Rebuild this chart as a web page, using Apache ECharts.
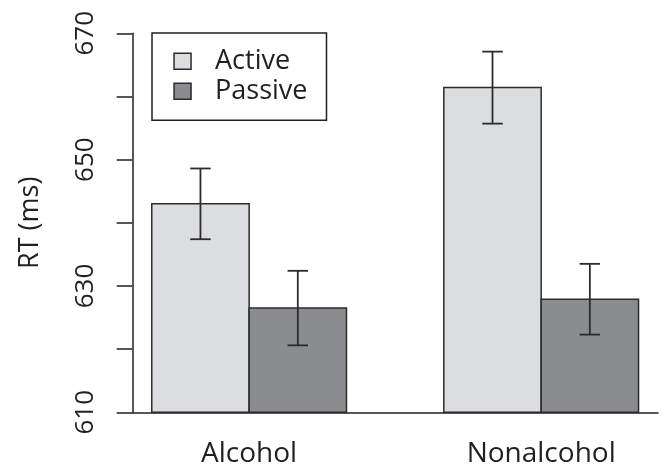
<!DOCTYPE html>
<html><head><meta charset="utf-8">
<script src="https://cdn.jsdelivr.net/npm/echarts@6/dist/echarts.min.js"></script>
<style>html,body{margin:0;padding:0;background:#fff}#c{width:665px;height:470px}</style>
</head><body><div id="c"></div>
<script>
// ---- data ----
const categories = ['Alcohol', 'Nonalcohol'];
const seriesNames = ['Active', 'Passive'];
const activeMeans = [643.0, 661.4];
const passiveMeans = [626.5, 627.9];
const activeErrors = [5.6, 5.7];
const passiveErrors = [5.9, 5.6];
const yTickLabels = [610, 630, 650, 670];

// ---- layout (R barplot, beside=TRUE, space=c(0,1)) ----
const Y_MIN = 610, Y_MAX = 670;
const groupCenter = i => 2 + 3 * i;
const INK = '#231f20';
const FONT = 'Open Sans';
const fills = ['#dcdde0', '#8b8c90'];

function buildData(means, errs, offset) {
  return means.map((m, i) => [groupCenter(i) + offset, m, errs[i]]);
}

function renderBarWithError(fill) {
  return function (params, api) {
    const x = api.value(0), m = api.value(1), e = api.value(2);
    const tl = api.coord([x - 0.5, m]);
    const br = api.coord([x + 0.5, Y_MIN]);
    const w = br[0] - tl[0];
    const top = api.coord([x, m + e]);
    const bot = api.coord([x, m - e]);
    const cap = w * 0.105;
    const ls = { stroke: '#2b2b2b', lineWidth: 1.8 };
    return {
      type: 'group',
      children: [
        { type: 'rect', shape: { x: tl[0], y: tl[1], width: w, height: br[1] - tl[1] },
          style: { fill: fill, stroke: '#2b2b2b', lineWidth: 1.5 } },
        { type: 'line', shape: { x1: top[0], y1: top[1], x2: bot[0], y2: bot[1] }, style: ls },
        { type: 'line', shape: { x1: top[0] - cap, y1: top[1], x2: top[0] + cap, y2: top[1] }, style: ls },
        { type: 'line', shape: { x1: bot[0] - cap, y1: bot[1], x2: bot[0] + cap, y2: bot[1] }, style: ls }
      ]
    };
  };
}

const chart = echarts.init(document.getElementById('c'));
chart.setOption({
  animation: false,
  backgroundColor: '#fff',
  grid: { left: 132.3, right: 7, top: 33.3, bottom: 57.7, outerBoundsMode: 'none' },
  legend: {
    data: seriesNames,
    orient: 'vertical',
    left: 152, top: 33,
    padding: [10.3, 19, 11, 21.3],
    borderColor: INK, borderWidth: 1.5, borderRadius: 0,
    backgroundColor: '#fff',
    icon: 'rect', itemWidth: 17, itemHeight: 16, itemGap: -6,
    itemStyle: { borderColor: '#2b2b2b', borderWidth: 1.5 },
    textStyle: { fontFamily: FONT, fontSize: 27, color: INK, lineHeight: 28, padding: [8, 0, 0, 19] },
    selectedMode: false
  },
  xAxis: {
    type: 'value', min: 0.8, max: 6.2,
    axisLine: { show: true, lineStyle: { color: INK, width: 1.5 } },
    axisTick: { show: false },
    splitLine: { show: false },
    axisLabel: {
      customValues: categories.map((c, i) => groupCenter(i)),
      formatter: v => categories[Math.round((v - 2) / 3)],
      fontFamily: FONT, fontSize: 28, color: INK, margin: 28
    }
  },
  yAxis: {
    type: 'value', min: Y_MIN, max: Y_MAX, interval: 10,
    name: 'RT (ms)', nameLocation: 'middle', nameGap: 88,
    nameTextStyle: { fontFamily: FONT, fontSize: 27, color: INK },
    axisLine: { show: true, lineStyle: { color: INK, width: 1.5 } },
    axisTick: { show: true, length: 15.6, lineStyle: { color: INK, width: 1.5 } },
    splitLine: { show: false },
    axisLabel: {
      rotate: 90,
      formatter: v => (yTickLabels.indexOf(v) >= 0 ? String(v) : ''),
      fontFamily: FONT, fontSize: 26, color: INK, margin: 34
    }
  },
  series: [
    { name: seriesNames[0], type: 'custom', itemStyle: { color: fills[0] },
      renderItem: renderBarWithError(fills[0]),
      data: buildData(activeMeans, activeErrors, -0.5) },
    { name: seriesNames[1], type: 'custom', itemStyle: { color: fills[1] },
      renderItem: renderBarWithError(fills[1]),
      data: buildData(passiveMeans, passiveErrors, 0.5) }
  ]
});
</script>
</body></html>
